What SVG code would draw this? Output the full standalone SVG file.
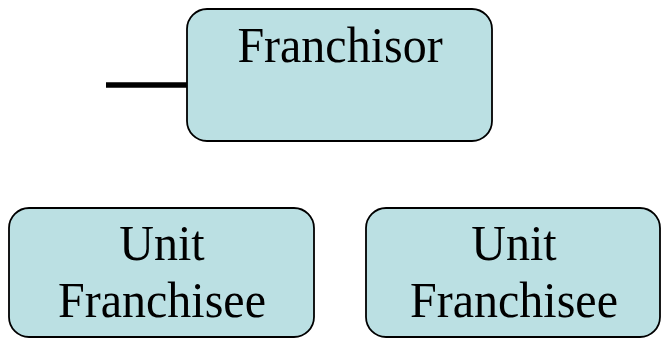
<svg xmlns="http://www.w3.org/2000/svg" width="662" height="338" viewBox="0 0 662 338">
<style>
.box{fill:#BBE0E3;stroke:#000;stroke-width:1.8}
.t{font-family:"Liberation Serif","Times New Roman",serif;font-size:48px;fill:#000;text-anchor:middle}
</style>
<rect width="662" height="338" fill="#fff"/>
<g id="connectors">
<line x1="106" y1="85" x2="187" y2="85" stroke="#000" stroke-width="5.5"/>
</g>
<g id="franchisor">
<rect class="box" x="187" y="9" width="305" height="132" rx="20" ry="20"/>
<text class="t" transform="translate(340,62) scale(1,1.05)">Franchisor</text>
</g>
<g id="unit1">
<rect class="box" x="9" y="208" width="305" height="129" rx="20" ry="20"/>
<text class="t" transform="translate(162,260) scale(1,1.05)">Unit</text>
<text class="t" transform="translate(162,317) scale(1,1.05)">Franchisee</text>
</g>
<g id="unit2">
<rect class="box" x="366" y="208" width="294" height="129" rx="20" ry="20"/>
<text class="t" transform="translate(514,260) scale(1,1.05)">Unit</text>
<text class="t" transform="translate(514,317) scale(1,1.05)">Franchisee</text>
</g>
</svg>
